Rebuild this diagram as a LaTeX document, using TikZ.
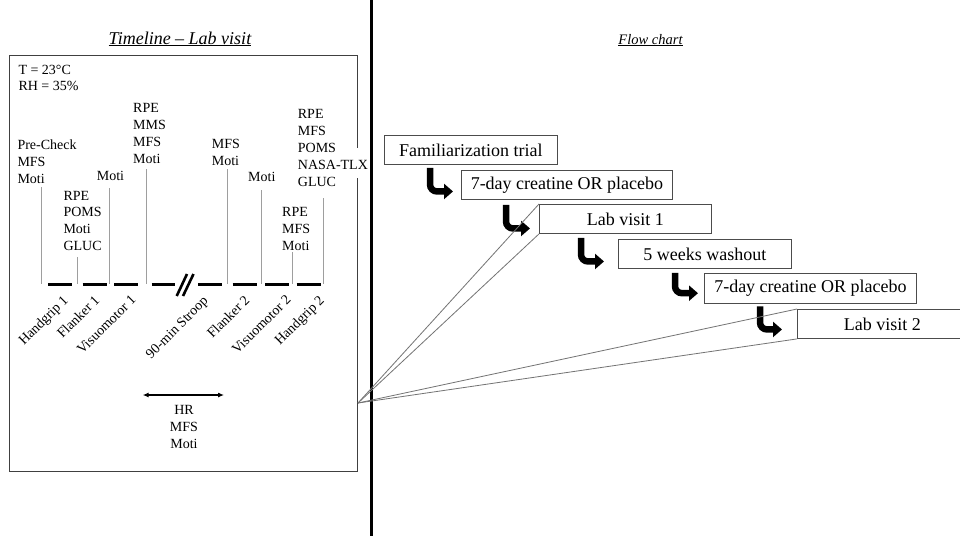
\documentclass[tikz,border=0pt]{standalone}
\usepackage{fontspec}
\setmainfont{Liberation Serif}
\usetikzlibrary{arrows.meta,calc}
\begin{document}
\begin{tikzpicture}[x=1pt,y=-1pt,
  lbl/.style={inner sep=0pt, anchor=north west, align=left, font=\fontsize{14}{16.8}\selectfont},
  task/.style={inner sep=0pt, anchor=north east, rotate=45, font=\fontsize{14}{16.8}\selectfont},
  tick/.style={draw=black!38, line width=0.9pt},
  seg/.style={line width=3pt},
  fbox/.style={draw=black!70, line width=0.9pt, anchor=north west, inner sep=0pt, minimum height=29pt, font=\fontsize{18}{21}\selectfont},
  hook/.style={line width=6.5pt, rounded corners=7pt, -{Triangle[length=9pt,width=15pt]}},
  fan/.style={draw=black!55, line width=0.8pt},
  ttl/.style={font=\fontsize{18}{21}\selectfont\itshape, anchor=base, inner sep=0pt}]
\clip (0,0) rectangle (960,536);
\fill[white] (0,0) rectangle (960,536);

% titles
\node[ttl] (t1) at (180,44) {\underline{Timeline – Lab visit}};
\node[ttl, font=\fontsize{14.5}{17}\selectfont\itshape] (t2) at (650.5,44) {\underline{Flow chart}};

% left frame
\draw[black!75, line width=1.2pt] (9.5,55.5) rectangle (357.5,471.5);
\fill[white] (354,148) rectangle (361,178);

\node[lbl] (env) at (18.3,64.5) {T = 23°C\\RH = 35\%};

% measurement labels
\node[lbl] (c1) at (17.3,140) {Pre-Check\\MFS\\Moti};
\node[lbl] (c2) at (63.3,190.7) {RPE\\POMS\\Moti\\GLUC};
\node[lbl] (c3) at (96.7,171) {Moti};
\node[lbl] (c4) at (133,103.5) {RPE\\MMS\\MFS\\Moti};
\node[lbl] (c5) at (211.7,139) {MFS\\Moti};
\node[lbl] (c6) at (248,172.5) {Moti};
\node[lbl] (c7) at (282,207.5) {RPE\\MFS\\Moti};
\node[lbl] (c8) at (297.7,109.5) {RPE\\MFS\\POMS\\NASA-TLX\\GLUC};

% vertical ticks
\draw[tick] (41.7,187) -- (41.7,284);
\draw[tick] (77.3,257) -- (77.3,284);
\draw[tick] (109,188) -- (109,284);
\draw[tick] (146.5,169) -- (146.5,284);
\draw[tick] (227.7,169) -- (227.7,284);
\draw[tick] (261.3,190) -- (261.3,284);
\draw[tick] (292.3,252) -- (292.3,284);
\draw[tick] (323.3,198) -- (323.3,284);

% timeline segments
\draw[seg] (48.3,284.3) -- (71.7,284.3);
\draw[seg] (82.7,284.3) -- (106.7,284.3);
\draw[seg] (114,284.3) -- (138.3,284.3);
\draw[seg] (151.7,284.3) -- (175,284.3);
\draw[seg] (198.3,284.3) -- (221.7,284.3);
\draw[seg] (232.7,284.3) -- (256.7,284.3);
\draw[seg] (265,284.3) -- (289.3,284.3);
\draw[seg] (296.7,284.3) -- (320.7,284.3);
% break mark
\draw[line width=2.6pt] (176.7,296) -- (187,274);
\draw[line width=2.6pt] (183,296) -- (193.5,274);

% task labels
\node[task] (h1) at (62,294) {Handgrip 1};
\node[task] (f1) at (93.5,294) {Flanker 1};
\node[task] (v1) at (130,294) {Visuomotor 1};
\node[task] (st) at (202,295) {90-min Stroop};
\node[task] (f2) at (243.5,294) {Flanker 2};
\node[task] (v2) at (285,294) {Visuomotor 2};
\node[task] (h2) at (318,294) {Handgrip 2};

% HR arrow
\coordinate (hrL) at (142.7,395);
\coordinate (hrR) at (224,395);
\draw[{Latex[length=6pt,width=5pt]}-{Latex[length=6pt,width=5pt]}, line width=1.1pt] (hrL) -- (hrR);
\node[inner sep=0pt, anchor=north, align=center, font=\fontsize{14}{16.8}\selectfont] (hr) at (184,405.5) {HR\\MFS\\Moti};

% divider
\draw[line width=3pt] (371,0) -- (371,536);

% flow chart boxes
\node[fbox, minimum width=173pt] (fam) at (384,135) {Familiarization trial};
\node[fbox, minimum width=211pt] (d1) at (461,170) {7-day creatine OR placebo};
\node[fbox, minimum width=172pt] (lab1) at (539,204) {Lab visit 1};
\node[fbox, minimum width=173pt] (wash) at (618,239) {5 weeks washout};
\node[fbox, minimum width=212pt, minimum height=29.5pt] (d2) at (704,273) {7-day creatine OR placebo};
\node[fbox, minimum width=170pt] (lab2) at (797,309) {Lab visit 2};

% hook arrows
\draw[hook] ($(fam.south west)+(46,3)$) |- ($(d1.west)+(-8,6.5)$);
\draw[hook] ($(d1.south west)+(45,5)$) |- ($(lab1.west)+(-9,9.5)$);
\draw[hook] ($(lab1.south west)+(42,4)$) |- ($(wash.west)+(-14,7.5)$);
\draw[hook] ($(wash.south west)+(57,4)$) |- ($(d2.west)+(-6,5)$);
\draw[hook] ($(d2.south west)+(56,3)$) |- ($(lab2.west)+(-15,5.5)$);

% fan lines
\coordinate (apex) at (358,403);
\draw[fan] (apex) -- (lab1.north west);
\draw[fan] (apex) -- (lab1.south west);
\draw[fan] (apex) -- (lab2.north west);
\draw[fan] (apex) -- (lab2.south west);
\end{tikzpicture}
\end{document}
